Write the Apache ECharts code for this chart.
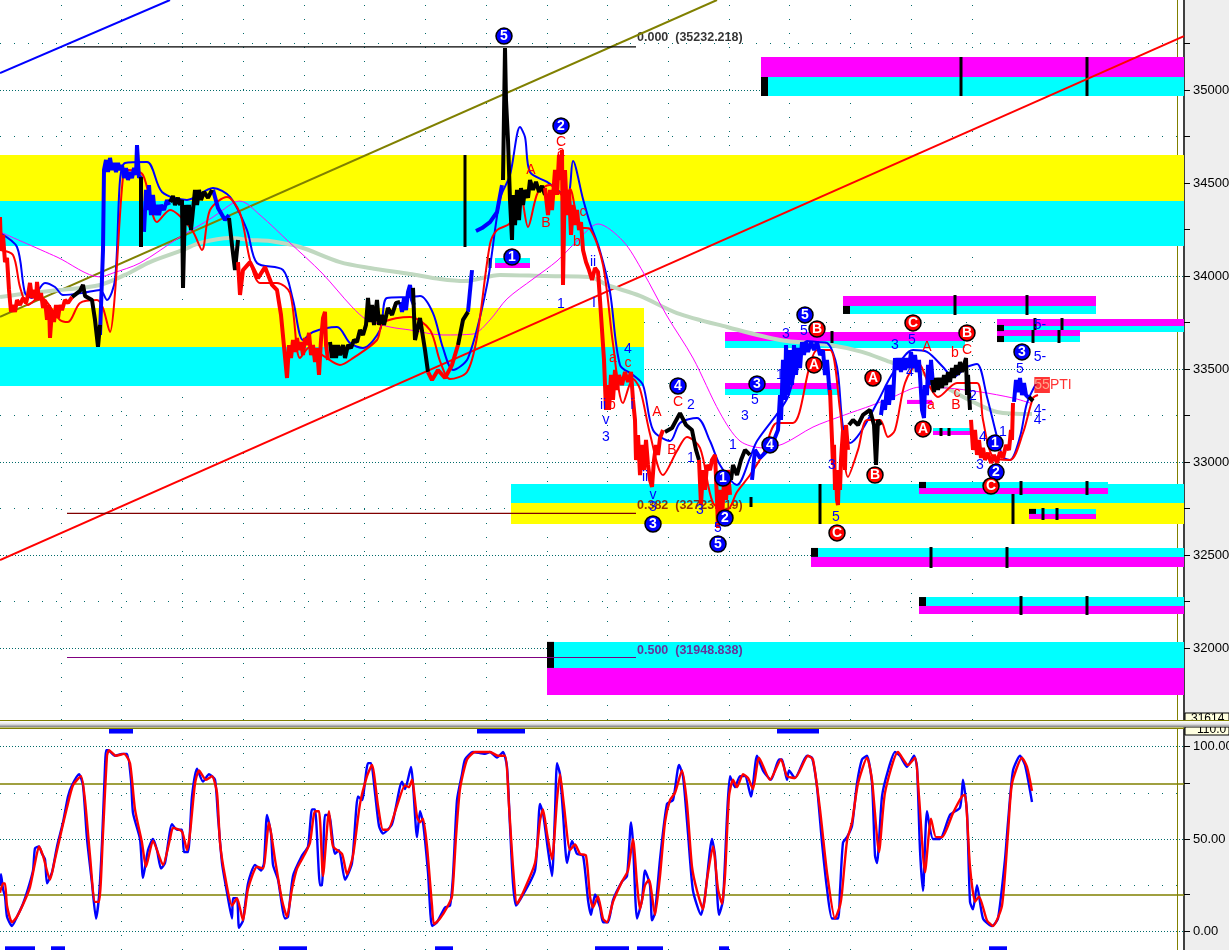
<!DOCTYPE html>
<html><head><meta charset="utf-8">
<style>html,body{margin:0;padding:0;background:#fff}#c{width:1229px;height:950px}</style>
<script src="https://cdn.jsdelivr.net/npm/echarts@6/dist/echarts.min.js"></script>
</head><body><div id="c"></div>
<script>
const priceMajor=[32000,32500,33000,33500,34000,34500,35000];
const priceMinor=[32250,32750,33250,33750,34250,34750,35250];
const oscMajor=[0,50,100];
const oscLevels=[20,80];
const oscMinor=[25,75];
const gridColumns=[60.75,121.5,182.25,243,303.75,364.5,425.25,486,546.75,607.5,668.25,729,789.75,850.5,911.25,972];

const zones=[
[0,1184,34651,34403,'#ffff00'],[0,1184,34403,34161,'#00ffff'],
[0,644,33828,33619,'#ffff00'],[0,644,33619,33409,'#00ffff'],
[511,1184,32882,32780,'#00ffff'],[511,1184,32780,32667,'#ffff00'],
[761,1184,35178,35070,'#ff00ff'],[761,1184,35070,34968,'#00ffff'],
[843,1096,33893,33839,'#ff00ff'],[843,1096,33839,33796,'#00ffff'],
[997,1184,33769,33731,'#ff00ff'],[997,1184,33731,33699,'#00ffff'],
[997,1080,33710,33678,'#ff00ff'],[997,1080,33678,33645,'#00ffff'],
[725,965,33699,33651,'#ff00ff'],[725,965,33651,33613,'#00ffff'],
[725,838,33425,33393,'#ff00ff'],[725,838,33393,33360,'#00ffff'],
[495,530,34097,34070,'#00ffff'],[495,530,34070,34043,'#ff00ff'],
[907,932,33334,33312,'#ff00ff'],
[933,972,33183,33167,'#00ffff'],[933,972,33167,33145,'#ff00ff'],
[919,1108,32893,32860,'#00ffff'],[919,1108,32860,32828,'#ff00ff'],
[1029,1096,32748,32721,'#00ffff'],[1029,1096,32721,32694,'#ff00ff'],
[811,1184,32538,32490,'#00ffff'],[811,1184,32490,32436,'#ff00ff'],
[919,1184,32274,32226,'#00ffff'],[919,1184,32226,32183,'#ff00ff'],
[547,1184,32033,31893,'#00ffff'],[547,1184,31893,31748,'#ff00ff'],
[761,768,35070,34968,'#000'],[843,850,33839,33796,'#000'],[997,1004,33737,33704,'#000'],
[997,1004,33678,33645,'#000'],[919,926,32893,32860,'#000'],[1029,1036,32748,32721,'#000'],
[811,818,32538,32490,'#000'],[919,926,32274,32226,'#000'],[547,554,32033,31893,'#000']
];
const zoneTicks=[[961,35178,34968],[1087,35178,34968],[955,33898,33790],[1027,33898,33790],[1035,33774,33710],[1062,33774,33710],
[1033,33710,33640],[1059,33710,33640],[832,33704,33640],[941,33183,33140],[949,33183,33140],[1021,32898,32823],[1087,32898,32823],
[1043,32753,32688],[1057,32753,32688],[820,32882,32667],[1013,32828,32667],[751,32812,32758],[931,32543,32430],[1007,32543,32430],
[1021,32280,32178],[1087,32280,32178],[465,34651,34156],[490,34097,34043]];

const blueTrend=[[0,35091],[170,35484]];
const oliveTrend=[[0,33781],[717,35484]];
const redTrend=[[0,32473],[1184,35290]];
const fib000=[[67,35232],[636,35232]];
const fib382=[[67,32724],[636,32724]];
const fib500=[[67,31949],[636,31949]];

const paleMA=[[0,33887],[30,33909],[60,33925],[100,33952],[125,34006],[150,34075],[183,34140],[200,34178],[230,34204],[250,34194],[270,34188],[300,34156],[340,34075],[370,34043],[410,34011],[440,33984],[465,33973],[500,34006],[545,34000],[590,33995],[607,33952],[640,33893],[677,33801],[727,33726],[780,33656],[830,33629],[862,33592],[890,33538],[920,33484],[947,33398],[973,33323],[997,33269],[1032,33258]];
const magentaMA=[[0,34237],[57,34102],[100,33995],[113,34016],[140,34070],[180,34210],[213,34317],[233,34393],[240,34403],[260,34328],[290,34178],[322,34016],[352,33834],[367,33764],[390,33726],[410,33710],[443,33683],[473,33688],[490,33764],[507,33877],[533,33984],[557,34081],[577,34188],[598,34280],[623,34188],[643,34022],[667,33785],[693,33559],[720,33264],[740,33113],[763,33076],[783,33097],[813,33188],[842,33248],[873,33307],[893,33350],[920,33403],[947,33398],[980,33377],[1013,33344],[1030,33317]];
const blueMA=[[0,34231],[17,34156],[25,33909],[32,33882],[45,33963],[55,33941],[63,33898],[83,33909],[100,33925],[107,33871],[115,33979],[120,34516],[125,34608],[147,34613],[162,34452],[187,34409],[213,34473],[230,34425],[247,34247],[257,34070],[283,34032],[293,33871],[303,33656],[313,33699],[337,33726],[350,33640],[363,33613],[380,33710],[387,33882],[410,33887],[420,33893],[433,33801],[443,33613],[453,33495],[468,33559],[487,33952],[500,34414],[510,34543],[520,34801],[525,34747],[530,34559],[547,34506],[567,34430],[573,34618],[583,34414],[590,34285],[600,34135],[610,33914],[620,33522],[633,33468],[643,33414],[653,33172],[670,33113],[680,33210],[697,33237],[710,33113],[720,32984],[737,32877],[750,33022],[757,33113],[787,33339],[797,33522],[807,33651],[817,33645],[827,33640],[837,33511],[843,33188],[850,33102],[860,33156],[877,33317],[893,33479],[913,33602],[927,33592],[943,33511],[953,33457],[967,33511],[977,33527],[987,33350],[997,33135],[1003,33027],[1010,33011],[1020,33135],[1027,33317],[1037,33430]];
const redMA=[[0,34140],[13,34113],[20,33941],[28,33844],[40,33887],[60,33764],[68,33753],[80,33855],[97,33871],[103,33828],[110,33699],[115,33909],[123,34532],[128,34570],[143,34543],[157,34290],[170,34355],[192,34247],[202,34140],[210,34355],[227,34425],[240,34339],[250,34086],[260,33963],[277,33963],[290,33909],[300,33559],[310,33619],[325,33565],[340,33522],[353,33559],[377,33656],[383,33748],[410,33780],[430,33710],[440,33543],[450,33446],[467,33484],[477,33672],[490,34172],[497,34247],[510,34285],[520,34452],[528,34264],[538,34452],[550,34489],[567,34414],[570,34468],[580,34264],[590,34253],[603,34059],[613,33635],[623,33317],[633,33446],[640,33393],[650,33151],[663,32930],[677,33059],[687,33135],[700,33076],[713,32780],[727,32742],[737,32839],[750,32930],[763,33043],[777,33210],[793,33210],[810,33522],[817,33602],[830,33602],[840,33280],[848,32920],[858,33065],[867,33226],[880,33226],[888,33135],[895,33172],[905,33425],[918,33532],[930,33403],[938,33350],[957,33425],[977,33425],[983,33226],[993,33027],[1010,33011],[1023,33156],[1033,33344],[1038,33360]];

const priceRed=[
[[0,34317],[1,34140],[3,34221],[5,34075],[7,34097],[9,33925],[11,33807],[13,33844],[15,33807],[17,33871],[20,33844],[23,33882],[26,33855],[28,33898],[30,33963],[32,33882],[34,33925],[36,33871],[37,33968],[39,33871],[41,33909],[43,33828],[45,33871],[47,33764],[49,33844],[50,33667],[52,33817],[54,33753],[56,33844],[58,33774],[60,33844],[62,33817],[65,33871],[68,33855],[72,33887]],
[[238,34075],[240,33898],[243,34032],[250,34075],[258,33989],[265,34048],[272,33952],[277,33925],[281,33791],[287,33452],[289,33629],[291,33559],[293,33656],[295,33592],[297,33667],[299,33602],[301,33645],[303,33575],[305,33667],[307,33629],[309,33694],[311,33575],[313,33629],[315,33538],[317,33613],[319,33468],[321,33656],[323,33774],[325,33807],[326,33629],[328,33549]],
[[428,33484],[432,33441],[438,33495],[445,33452],[452,33522],[458,33629]],
[[545,34473],[548,34328],[550,34463],[552,34355],[555,34570],[557,34436],[559,34651],[561,34516],[562,34678],[563,33952],[565,34570],[567,34328],[569,34463],[571,34221],[573,34382],[575,34274],[577,34355],[579,34247],[581,34290],[583,34140],[586,34075],[589,34032],[592,33979],[595,34043],[598,34022],[600,33871],[602,33710],[604,33549],[606,33280],[607,33414],[609,33280],[611,33468],[613,33334],[615,33495],[617,33387],[619,33468],[622,33414],[625,33484],[628,33430],[631,33484],[633,33334],[635,33226],[636,33011],[638,33145],[640,32930],[642,33092],[644,32957],[646,33119],[648,32984],[650,32904],[652,32866],[654,33011],[656,33092],[658,33038],[660,33129],[663,33172]],
[[699,33011],[701,32769],[703,32957],[705,32850],[707,32984],[710,32957],[712,33011],[715,33038],[717,32796],[718,32646],[720,32850],[722,32688],[724,32904],[726,32796],[728,32957],[730,32823]],
[[830,33387],[832,33119],[833,32984],[834,33092],[835,32850],[836,32957],[837,32796],[838,32769],[839,32957],[840,32850],[841,33011],[843,33172],[845,32957],[846,33199],[848,33065]],
[[971,33226],[973,33065],[975,33172],[977,33038],[979,33119],[981,33022],[983,33076],[985,33011],[988,33049],[991,32995],[994,33038],[997,32995],[1000,33054],[1003,33022],[1006,33092],[1009,33065],[1011,33172],[1012,33119],[1013,33317]]
];
const priceBlue=[
[[100,33683],[103,34140],[104,34570],[106,34624],[108,34559],[110,34635],[112,34570],[114,34608],[116,34559],[118,34608],[120,34570],[122,34597],[124,34527],[126,34581],[128,34516],[130,34559],[132,34527],[134,34581],[136,34543],[137,34704],[139,34527],[141,34543]],
[[144,34237],[146,34463],[148,34355],[149,34489],[151,34328],[153,34436],[155,34328],[157,34382],[159,34328],[161,34382],[164,34355],[167,34409],[169,34382]],
[[213,34463],[218,34366],[225,34301],[229,34328]],
[[400,33860],[402,33807],[404,33882],[406,33817],[408,33914],[410,33952],[412,33871],[414,33844]],
[[468,33807],[472,34032]],
[[476,34242],[482,34258],[490,34290],[497,34344],[502,34489]],
[[752,32904],[755,33065],[760,33022],[768,33065],[774,33119],[778,33172],[780,33360],[781,33226],[783,33549],[785,33334],[786,33629],[788,33360],[790,33602],[792,33414],[794,33629],[796,33468],[798,33613],[800,33505],[802,33645],[804,33575],[806,33645],[808,33592],[811,33645],[814,33602],[817,33645],[820,33575],[823,33602],[825,33468],[827,33549],[829,33414],[830,33360]],
[[881,33253],[883,33334],[885,33280],[887,33414],[889,33307],[891,33414],[893,33334],[895,33559],[897,33495],[899,33559],[901,33484],[903,33559],[905,33495],[907,33559],[909,33505],[911,33592],[913,33505],[915,33575],[917,33484],[919,33549],[921,33376],[922,33280],[924,33237],[925,33414],[927,33360],[928,33522],[930,33414],[931,33549],[933,33414]],
[[1014,33323],[1016,33441],[1018,33376],[1020,33452],[1022,33360],[1024,33425],[1026,33360],[1029,33344]]
];
const priceBlack=[
[[72,33887],[80,33920],[83,33952],[85,33893],[92,33871],[95,33764],[98,33619],[100,33737]],
[[141,34532],[141,34156]],
[[170,34398],[173,34430],[175,34382],[178,34420],[180,34382],[182,34409],[183,33936],[185,34382],[187,34274],[189,34382],[191,34247],[193,34355],[195,34463],[197,34382],[199,34463],[201,34409],[204,34452],[208,34420],[212,34463]],
[[229,34312],[232,34167],[235,34032],[238,34194]],
[[330,33645],[332,33559],[334,33629],[336,33559],[338,33629],[340,33575],[343,33629],[345,33559],[348,33629],[351,33613],[354,33656],[357,33645],[360,33710],[363,33683],[366,33737],[368,33882],[370,33753],[372,33844],[374,33737],[377,33871],[379,33737],[382,33791],[384,33737],[388,33828],[392,33791],[396,33855],[400,33860]],
[[413,33936],[415,33656],[420,33774],[425,33602],[428,33484]],
[[458,33629],[463,33764],[468,33807]],
[[503,34516],[505,35226],[506,34946],[508,34731],[510,34409],[512,34194],[513,34436],[515,34274],[517,34463],[519,34301],[521,34473],[523,34382],[525,34463],[528,34420],[530,34516],[533,34463],[536,34506],[539,34452],[542,34484],[545,34436]],
[[665,33162],[672,33183],[680,33263],[686,33199],[692,33172],[696,33065],[699,33011]],
[[731,32904],[733,32984],[737,32930],[741,33011],[745,33065],[750,33038]],
[[849,33199],[853,33226],[858,33199],[863,33253],[870,33280],[874,33199],[876,32984],[878,33226],[881,33199]],
[[932,33441],[934,33376],[936,33452],[938,33387],[940,33452],[942,33398],[944,33468],[946,33414],[948,33484],[950,33430],[952,33505],[954,33452],[956,33522],[958,33468],[960,33538],[962,33484],[964,33522],[966,33559],[967,33360],[968,33468],[970,33280]],
[[1029,33350],[1033,33328]]
];

const blueCircles=[[504,35290,'5'],[561,34807,'2'],[512,34102,'1'],[653,32667,'3'],[678,33409,'4'],[725,32699,'2'],[718,32559,'5'],[757,33420,'3'],[770,33092,'4'],[805,33791,'5'],[995,33102,'1'],[996,32946,'2'],[1022,33592,'3'],[723,32914,'1']];
const redCircles=[[817,33715,'B'],[814,33522,'A'],[913,33748,'C'],[873,33452,'A'],[875,32930,'B'],[923,33178,'A'],[967,33694,'B'],[991,32871,'C'],[837,32619,'C']];
const redTexts=[[561,34721,'C'],[561,34667,'a'],[531,34570,'A'],[546,34285,'B'],[583,34344,'c'],[577,34183,'b'],[613,33559,'a'],[612,33307,'b'],[628,33532,'c'],[657,33269,'A'],[672,33065,'B'],[678,33323,'C'],[927,33619,'A'],[955,33586,'b'],[967,33602,'C'],[957,33371,'c'],[956,33307,'B'],[931,33307,'a']];
const blueTexts=[[561,33850,'1'],[593,34075,'ii'],[594,33855,'I'],[628,33608,'4'],[603,33307,'ii'],[606,33226,'v'],[606,33135,'3'],[632,33307,'i'],[645,32920,'ii'],[653,32823,'v'],[653,32758,'3'],[718,32646,'5'],[700,32742,'3'],[691,33307,'2'],[691,33022,'1'],[733,33092,'1'],[745,33248,'3'],[755,33334,'5'],[780,33468,'1'],[786,33688,'3'],[804,33704,'5'],[836,32705,'5'],[832,32984,'3'],[895,33629,'3'],[912,33656,'5'],[910,33484,'4'],[980,32984,'3'],[973,33355,'2'],[1003,33162,'1'],[1040,33565,'5-'],[1040,33737,'5-'],[1020,33500,'5'],[1040,33280,'4-'],[1040,33226,'4-'],[983,33135,'4']];
const fibLabels=[[637,35280,'0.000  (35232.218)','#000000'],[637,32764,'0.382  (32723.719)','#800000'],[637,31989,'0.500  (31948.838)','#800080']];
const ptiLabel=[[1053,33414,'55PTI']];

const oscBlue=[[0,25],[1,31],[3,23],[5,19],[7,8],[12,3],[17,8],[23,15],[28,23],[33,33],[35,45],[39,46],[42,42],[45,39],[47,26],[52,32],[57,46],[63,59],[68,73],[72,79],[79,85],[83,79],[87,50],[92,26],[96,7],[99,19],[102,48],[105,89],[106,98],[108,98],[115,95],[122,96],[127,96],[131,82],[133,64],[140,50],[143,29],[148,44],[153,50],[157,44],[161,34],[165,37],[172,58],[177,55],[182,55],[184,43],[188,43],[192,73],[197,88],[203,81],[209,85],[215,82],[218,62],[222,37],[227,21],[232,7],[233,18],[237,18],[239,2],[243,6],[248,26],[255,36],[261,33],[264,37],[267,63],[271,53],[273,36],[278,28],[285,7],[288,8],[293,30],[302,41],[308,46],[312,66],[315,66],[320,25],[322,25],[325,63],[329,63],[335,42],[339,44],[345,28],[352,37],[358,73],[362,71],[368,91],[371,91],[375,75],[379,57],[383,53],[392,58],[402,81],[405,77],[411,89],[417,51],[420,65],[423,59],[428,32],[432,3],[437,5],[445,13],[450,14],[453,30],[457,71],[462,85],[465,93],[473,97],[485,96],[490,97],[497,94],[503,97],[507,89],[510,57],[513,26],[516,14],[520,17],[535,33],[540,69],[543,64],[548,44],[552,30],[555,64],[557,91],[560,85],[563,64],[567,37],[572,49],[577,42],[583,41],[588,17],[591,9],[595,20],[600,13],[603,5],[608,5],[613,17],[622,27],[627,30],[631,59],[633,48],[637,7],[642,17],[645,33],[650,25],[652,6],[655,10],[660,39],[667,69],[673,71],[679,90],[683,84],[688,53],[693,22],[701,9],[705,19],[712,50],[715,41],[719,9],[723,17],[727,62],[730,84],[735,78],[740,84],[745,84],[751,73],[757,95],[763,87],[771,82],[779,93],[782,93],[787,82],[789,87],[795,83],[807,95],[812,94],[817,78],[822,48],[827,23],[832,7],[838,7],[840,22],[843,48],[847,51],[852,57],[857,80],[862,93],[867,95],[872,80],[875,41],[877,37],[882,73],[888,87],[895,97],[900,95],[907,89],[914,95],[917,89],[920,44],[923,22],[927,65],[933,50],[940,50],[950,63],[960,67],[963,82],[967,64],[970,16],[973,12],[977,25],[983,7],[992,3],[998,7],[1005,39],[1008,59],[1013,87],[1020,95],[1025,90],[1032,70]];
const oscRed=[[0,21],[3,26],[5,26],[7,14],[12,5],[17,8],[25,17],[30,24],[35,37],[39,46],[43,41],[50,28],[55,39],[60,51],[67,67],[73,79],[81,84],[85,71],[90,41],[95,16],[99,16],[103,53],[107,95],[109,98],[116,95],[124,96],[130,91],[135,66],[142,48],[146,35],[153,49],[163,36],[170,50],[173,56],[182,54],[187,44],[190,53],[195,80],[199,87],[206,82],[212,84],[217,75],[220,48],[225,30],[232,14],[237,18],[243,6],[248,23],[257,35],[263,34],[269,59],[275,39],[282,17],[287,8],[292,23],[297,34],[305,42],[310,48],[315,65],[319,65],[323,30],[329,65],[333,46],[342,42],[347,31],[353,41],[360,69],[367,84],[372,90],[378,68],[383,55],[388,55],[397,68],[405,79],[409,78],[412,82],[417,62],[420,59],[423,61],[427,46],[432,14],[434,4],[440,7],[447,13],[452,19],[456,51],[460,77],[467,93],[475,97],[483,97],[490,97],[498,95],[505,95],[509,68],[513,35],[517,15],[523,21],[535,37],[540,60],[543,66],[547,53],[552,39],[557,71],[560,85],[564,68],[570,44],[575,47],[580,42],[586,41],[590,19],[593,13],[598,19],[603,7],[607,5],[613,16],[622,27],[628,33],[633,50],[637,26],[640,12],[645,25],[649,28],[655,9],[660,30],[665,59],[670,71],[675,75],[682,87],[687,69],[692,35],[697,22],[703,12],[707,28],[713,46],[718,23],[722,15],[725,30],[729,73],[733,82],[737,78],[743,85],[748,83],[753,77],[759,94],[770,82],[781,93],[787,84],[795,83],[808,95],[813,93],[820,66],[827,32],[835,7],[840,14],[842,21],[847,49],[852,59],[858,80],[867,94],[872,82],[879,43],[885,75],[898,97],[908,90],[915,94],[919,73],[925,32],[931,61],[936,51],[942,51],[953,64],[962,73],[965,74],[970,35],[975,16],[979,19],[987,6],[993,3],[1002,14],[1008,53],[1012,80],[1022,94],[1027,89],[1032,76]];
const oscBandsTop=[[109,133],[477,525],[777,819]];
const oscBandsBottom=[[5,35],[51,65],[279,307],[435,453],[595,629],[637,663],[719,729],[989,1007]];

const FONT='"Liberation Sans",Arial,sans-serif';
const series=[];
function line(data,color,width,z,g,smooth){
  series.push({type:'line',xAxisIndex:g||0,yAxisIndex:g||0,data,symbol:'none',z,silent:true,smooth:smooth||false,
    lineStyle:{color,width,cap:'butt',join:'bevel'},itemStyle:{color}});
}
function guides(g,rows,dash){
  series.push({type:'line',xAxisIndex:g,yAxisIndex:g,data:[],z:1,silent:true,
    markLine:{silent:true,symbol:'none',animation:false,label:{show:false},z:1,
      lineStyle:{color:'#006a6a',width:1,type:dash},data:rows}});
}
function labels(data,opt){
  series.push({type:'scatter',data,z:opt.z||20,silent:true,symbol:opt.symbol||'circle',symbolSize:opt.size||0,
    itemStyle:Object.assign({opacity:1},opt.item||{color:'transparent'}),
    label:{show:true,position:'inside',fontFamily:FONT,fontSize:opt.fs||14,fontWeight:opt.fw||'normal',
      color:opt.color,formatter:p=>p.value[2]}});
}
[0,1].forEach(g=>{
  guides(g,gridColumns.map(x=>({xAxis:x})),[1,13]);
  guides(g,[{xAxis:1177,lineStyle:{color:'#808000',type:'solid',width:1}}],'solid');
});
guides(0,priceMajor.map(v=>({yAxis:v})),[1,2]);
guides(0,priceMinor.map(v=>({yAxis:v})),[1,13]);
guides(1,oscMajor.map(v=>({yAxis:v})),[1,2]);
guides(1,oscMinor.map(v=>({yAxis:v})),[1,13]);
guides(1,oscLevels.map(v=>({yAxis:v,lineStyle:{color:'#808000',type:'solid',width:1.5}})),'solid');

series.push({type:'line',data:[],z:2,silent:true,
  markArea:{silent:true,animation:false,z:2,label:{show:false},
    data:zones.map(([a,b,t,l,c])=>[{xAxis:a,yAxis:t,itemStyle:{color:c,opacity:1}},{xAxis:b,yAxis:l}])}});
series.push({type:'line',xAxisIndex:1,yAxisIndex:1,data:[],z:2,silent:true,
  markArea:{silent:true,animation:false,z:2,label:{show:false},
    data:oscBandsTop.map(([a,b])=>[{xAxis:a,yAxis:109.5,itemStyle:{color:'#0000ff',opacity:1}},{xAxis:b,yAxis:107}])
      .concat(oscBandsBottom.map(([a,b])=>[{xAxis:a,yAxis:-8,itemStyle:{color:'#0000ff',opacity:1}},{xAxis:b,yAxis:-10}]))}});

const tickData=[];
zoneTicks.forEach(([x,t,l])=>{tickData.push([x,t],[x,l],[x,null]);});
line(tickData,'#000',3,3);

series.push({type:'scatter',z:4,silent:true,symbolSize:0,
  label:{show:true,position:'right',distance:0,fontFamily:FONT,fontSize:12.5,fontWeight:'bold',formatter:p=>p.value[2]},
  data:fibLabels.map(d=>({value:d,label:{color:d[3]}}))});

line(blueTrend,'#0000ff',2,5);
line(oliveTrend,'#808000',2,5);
line(redTrend,'#ff0000',2,5);
line(fib000,'#000000',1.2,5);
line(fib382,'#800000',1.2,5);
line(fib500,'#800080',1.2,5);
line(paleMA,'#c0d8c0',4,6,0,0.3);
line(magentaMA,'#ff00ff',1,7,0,0.3);
line(blueMA,'#0000ff',2,8,0,0.3);
line(redMA,'#ff0000',2,9,0,0.3);
priceBlue.forEach(d=>line(d,'#0000ff',4,10));
priceBlack.forEach(d=>line(d,'#000000',4,11));
priceRed.forEach(d=>line(d,'#ff0000',4,12));

labels(blueTexts,{color:'#0000ff',z:13});
labels(redTexts,{color:'#ff0000',z:13});
labels(blueCircles,{symbol:'circle',size:16,color:'#fff',fw:'bold',fs:14,z:14,
  item:{color:'#0000ff',borderColor:'#000',borderWidth:1.5}});
labels(redCircles,{symbol:'circle',size:16,color:'#fff',fw:'bold',fs:14,z:14,
  item:{color:'#ff0000',borderColor:'#000',borderWidth:1.5}});
series.push({type:'scatter',data:ptiLabel,z:15,silent:true,symbolSize:0,
  label:{show:true,position:'inside',formatter:()=>'{a|55}{b|PTI}',
    rich:{a:{backgroundColor:'#ff0000',color:'#ffc0a0',fontSize:14,fontFamily:FONT,padding:[1,0,1,0]},
          b:{color:'#ff0000',fontSize:14,fontFamily:FONT}}}});

line(oscBlue,'#0000ff',2.4,8,1,0.2);
line(oscRed,'#ff0000',2.4,9,1,0.2);

const chart=echarts.init(document.getElementById('c'));
const axisText={fontFamily:FONT,fontSize:13,color:'#000'};
chart.setOption({
  animation:false,backgroundColor:'#ffffff',
  grid:[{left:0,right:45,top:0,height:720,outerBoundsMode:'none'},{left:0,right:45,top:728,height:222,outerBoundsMode:'none'}],
  xAxis:[0,1].map(i=>({type:'value',gridIndex:i,min:0,max:1184,show:false})),
  yAxis:[
    {type:'value',gridIndex:0,position:'right',min:31613,max:35484,splitLine:{show:false},
     axisLine:{show:true,onZero:false,lineStyle:{color:'#000',width:1.5}},
     axisTick:{show:true,length:6,lineStyle:{color:'#000'},customValues:priceMajor.concat(priceMinor)},
     axisLabel:{...axisText,margin:9,customValues:priceMajor,formatter:v=>String(v)}},
    {type:'value',gridIndex:1,position:'right',min:-10,max:110,splitLine:{show:false},
     axisLine:{show:true,onZero:false,lineStyle:{color:'#000',width:1.5}},
     axisTick:{show:true,length:6,lineStyle:{color:'#000'},customValues:oscMajor.concat(oscLevels)},
     axisLabel:{...axisText,margin:9,customValues:oscMajor,formatter:v=>v.toFixed(2)}}
  ],
  series,
  graphic:[
    {type:'rect',z:-10,silent:true,shape:{x:1185,y:0,width:44,height:950},style:{fill:'#eeeeee'}},
    {type:'rect',z:50,silent:true,shape:{x:1185,y:713,width:44,height:9},style:{fill:'#ffffe0',stroke:'#000',lineWidth:1}},
    {type:'text',z:51,silent:true,x:1191,y:713,style:{text:'31614',font:'12px '+FONT,fill:'#000'}},
    {type:'rect',z:50,silent:true,shape:{x:1185,y:727,width:44,height:8},style:{fill:'#ffffe0',stroke:'#000',lineWidth:1}},
    {type:'text',z:51,silent:true,x:1197,y:724,style:{text:'110.0',font:'12px '+FONT,fill:'#000'}},
    {type:'rect',z:60,silent:true,shape:{x:0,y:721,width:1229,height:6},
      style:{fill:new echarts.graphic.LinearGradient(0,0,0,1,[{offset:0,color:'#ffffff'},{offset:0.5,color:'#e4e4e4'},{offset:1,color:'#808080'}])}},
    {type:'rect',z:61,silent:true,shape:{x:0,y:720,width:1229,height:1},style:{fill:'#808000'}},
    {type:'rect',z:61,silent:true,shape:{x:0,y:727.5,width:1184,height:1.5},style:{fill:'#808000'}}
  ]
});
</script></body></html>
